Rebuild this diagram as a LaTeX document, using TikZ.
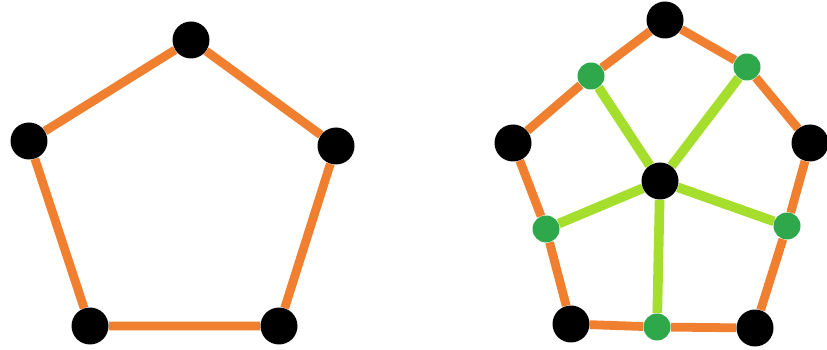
\documentclass[tikz,border=0pt]{standalone}
\usepackage{tikz}
\usepackage{xcolor}
\usetikzlibrary{positioning,backgrounds}

\definecolor{rimorange}{HTML}{F0802F}
\definecolor{spokegreen}{HTML}{A6DE2E}
\definecolor{midgreen}{HTML}{2EA84A}

\begin{document}
\begin{tikzpicture}[x=0.02cm,y=-0.02cm,
    vtx/.style={circle,fill=black,inner sep=0pt,minimum width=0.70cm,minimum height=0.74cm},
    midpt/.style={circle,fill=midgreen,inner sep=0pt,minimum size=0.54cm},
    rim/.style={draw=rimorange,line width=5pt},
    spoke/.style={draw=spokegreen,line width=5.5pt}]
  \useasboundingbox (0,0) rectangle (827,350);
  % left pentagon
  \node[vtx] (at) at (191,40) {};
  \node[vtx] (ar) at (336,146) {};
  \node[vtx] (abr) at (279,326) {};
  \node[vtx] (abl) at (90,326) {};
  \node[vtx] (al) at (29,141) {};
  \begin{scope}[on background layer]
    \draw[rim] (at) -- (ar) -- (abr) -- (abl) -- (al) -- (at);
  \end{scope}
  % right pentagon with centre and edge points
  \node[vtx] (bt) at (665,20) {};
  \node[vtx] (br) at (810,143) {};
  \node[vtx] (bbr) at (755,328) {};
  \node[vtx] (bbl) at (571,324) {};
  \node[vtx] (bl) at (513,143) {};
  \node[vtx] (bc) at (660,181) {};
  \node[midpt] (mul) at (591,76) {};
  \node[midpt] (mur) at (747,67) {};
  \node[midpt] (mr) at (787,226) {};
  \node[midpt] (mb) at (657,327) {};
  \node[midpt] (ml) at (546,229) {};
  \begin{scope}[on background layer]
    \draw[rim] (bt) -- (mur) -- (br) -- (mr) -- (bbr) -- (mb) -- (bbl) -- (ml) -- (bl) -- (mul) -- (bt);
    \foreach \m in {mul,mur,mr,mb,ml}
      \draw[spoke] (bc) -- (\m);
  \end{scope}
\end{tikzpicture}
\end{document}
